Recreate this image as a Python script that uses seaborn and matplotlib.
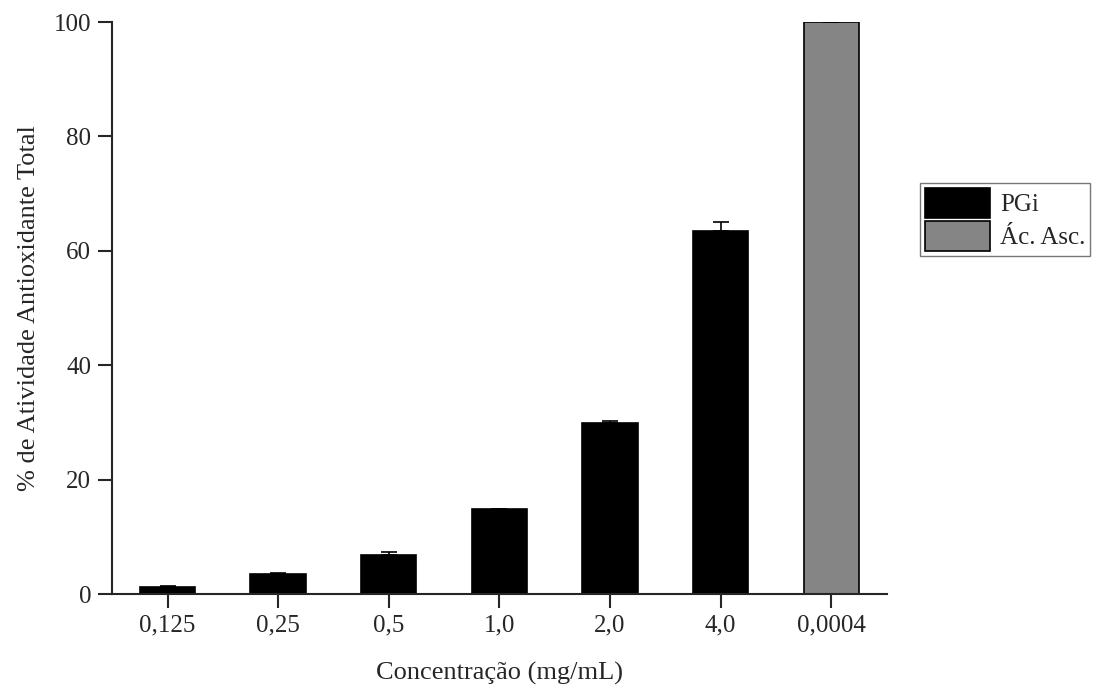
import matplotlib
matplotlib.use("Agg")
import matplotlib.pyplot as plt
import seaborn as sns
import pandas as pd
import numpy as np

# dados
concentracoes = ['0,125', '0,25', '0,5', '1,0', '2,0', '4,0', '0,0004']
atividade = [1.2, 3.5, 6.8, 14.8, 29.9, 63.5, 100.0]
erro = [0.2, 0.1, 0.5, 0.1, 0.3, 1.6, 0.0]
amostra = ['PGi', 'PGi', 'PGi', 'PGi', 'PGi', 'PGi', 'Ác. Asc.']

df = pd.DataFrame({'conc': concentracoes, 'ativ': atividade, 'amostra': amostra})

sns.set_style('ticks')
plt.rcParams['font.family'] = ['Liberation Serif', 'DejaVu Serif']

fig = plt.figure(figsize=(11, 6.9), dpi=100)
ax = fig.add_axes([0.102, 0.139, 0.704, 0.829])

sns.barplot(data=df, x='conc', y='ativ', hue='amostra', dodge=False,
            palette={'PGi': '#000000', 'Ác. Asc.': '#858585'},
            width=0.5, edgecolor='black', linewidth=1.2, ax=ax)

# barras de erro (apenas para cima)
pos = np.arange(len(concentracoes))
ax.errorbar(pos, atividade, yerr=[np.zeros(len(erro)), erro], fmt='none',
            ecolor='black', elinewidth=1.2, capsize=6, capthick=1.2)

ax.set_xlim(-0.5, len(concentracoes) - 0.5)
ax.set_ylim(0, 100)
ax.set_yticks([0, 20, 40, 60, 80, 100])
sns.despine(ax=ax)
ax.spines['left'].set_linewidth(1.5)
ax.spines['bottom'].set_linewidth(1.5)
ax.tick_params(axis='both', direction='out', length=10, width=1.5, labelsize=18, pad=5)

ax.set_xlabel('Concentração (mg/mL)', fontsize=19, labelpad=18)
ax.set_ylabel('% de Atividade Antioxidante Total', fontsize=19, labelpad=10)

leg = ax.legend(loc='upper left', bbox_to_anchor=(1.043, 0.719), fontsize=18,
                frameon=True, fancybox=False, edgecolor='#555555',
                handlelength=2.6, handleheight=1.45, handletextpad=0.4,
                borderpad=0.2, labelspacing=0.15, borderaxespad=0)
leg.get_frame().set_linewidth(1.0)

plt.savefig('out.png', dpi=100)
